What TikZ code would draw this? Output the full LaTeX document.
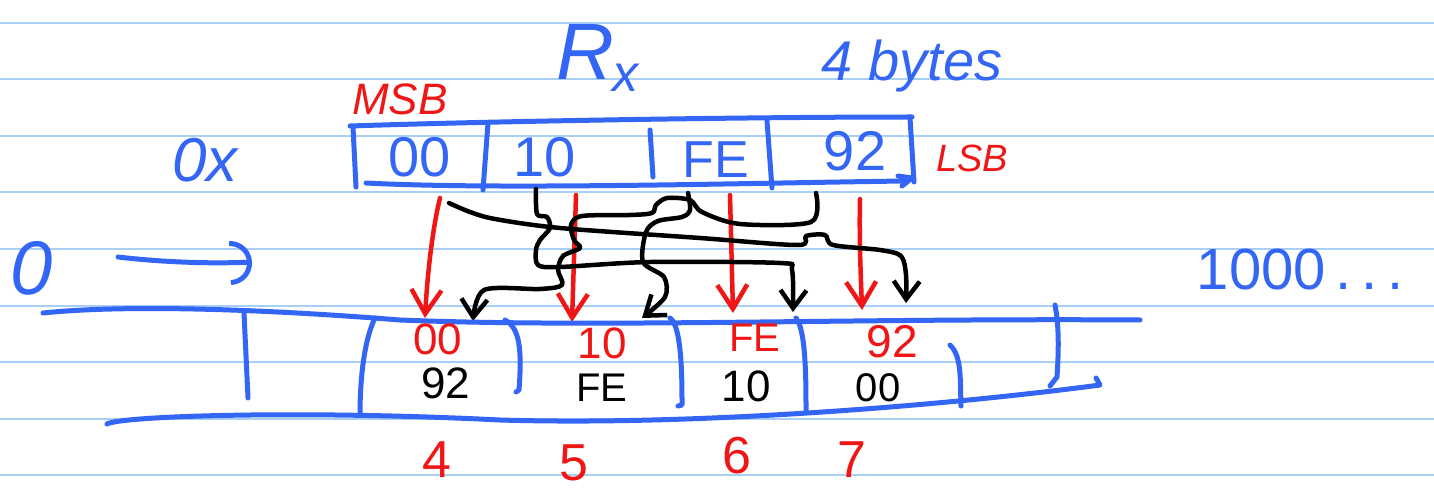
\documentclass[tikz,border=0pt]{standalone}
\usepackage{fontspec}
\setmainfont{Liberation Sans}
\usetikzlibrary{arrows.meta}
\definecolor{pen}{RGB}{52,102,246}
\definecolor{ruleblue}{RGB}{168,208,245}
\definecolor{redpen}{RGB}{240,22,22}
\newcommand{\fs}[1]{\fontsize{#1}{#1}\selectfont}
\tikzset{
  ruling/.style={draw=ruleblue,line width=2pt},
  bl/.style={draw=pen,line width=5pt,line cap=round,line join=round},
  rd/.style={draw=redpen,line width=4.5pt,line cap=round,line join=round,-{Straight Barb[length=24pt,width=30pt,line width=4.5pt]}},
  bk/.style={draw=black,line width=4.5pt,line cap=round,line join=round,-{Straight Barb[length=18pt,width=26pt,line width=4.5pt]}},
  btxt/.style={text=pen,inner sep=0pt},
  rtxt/.style={text=redpen,inner sep=0pt},
  ktxt/.style={text=black,inner sep=0pt},
}
\begin{document}
\begin{tikzpicture}[x=1pt,y=-1pt]
\useasboundingbox (0,0) rectangle (1434,489);
\fill[white] (0,0) rectangle (1434,489);
% ruled paper
\foreach \yy in {23,79.5,136,192.5,249,305.5,362,418.5,475}
  \draw[ruling] (0,\yy) -- (1434,\yy);

% labels above
\node[btxt,font=\itshape\fs{62}] (ox) at (205,160) {0x};
\node[btxt,font=\itshape\fs{80}] (R) at (585,52) {R};
\node[btxt,font=\itshape\fs{52}] (Rsub) at (625,78) {x};
\node[btxt,font=\itshape\fs{56}] (bytes) at (912,66) {4 bytes};
\node[rtxt,font=\itshape\fs{44}] (msb) at (400,99) {MSB};
\node[rtxt,font=\itshape\fs{38}] (lsb) at (972,158) {LSB};

% register box
\draw[bl] (350,126) .. controls (500,121) and (750,117) .. (912,117);
\draw[bl] (353,127) -- (356,187);
\draw[bl] (366,183) .. controls (500,190) and (750,183) .. (905,181) -- (912,178);
\draw[bl] (898,176) -- (912,178) -- (902,186);
\draw[bl] (488,123) -- (483,190);
\draw[bl] (650,130) -- (653,177);
\draw[bl] (767,121) -- (772,188);
\draw[bl] (910,118) -- (914,182);
\node[btxt,font=\fs{56}] (t00) at (420,157) {00};
\node[btxt,font=\fs{56}] (t10) at (545,157) {10};
\node[btxt,font=\fs{52}] (tFE) at (716,160) {FE};
\node[btxt,font=\fs{56}] (t92) at (855,151) {92};

% start / end coordinates
\coordinate (r1s) at (440,198); \coordinate (r1e) at (425,318);
\coordinate (r2s) at (576,195); \coordinate (r2e) at (572,322);
\coordinate (r3s) at (730,195); \coordinate (r3e) at (733,313);
\coordinate (r4s) at (860,199); \coordinate (r4e) at (862,310);

% red straight copies
\draw[rd] (r1s) .. controls (432,230) and (427,280) .. (r1e);
\draw[rd] (r2s) -- (r2e);
\draw[rd] (r3s) -- (r3e);
\draw[rd] (r4s) .. controls (859,240) and (861,280) .. (r4e);

% black swapped copies
\coordinate (k1s) at (449,203); \coordinate (k1e) at (906,303);
\coordinate (k2s) at (536,189); \coordinate (k2e) at (793,312);
\coordinate (k3s) at (688,193); \coordinate (k3e) at (642,318);
\coordinate (k4s) at (816,193); \coordinate (k4e) at (473,321);
\draw[bk] plot[smooth,tension=0.5] coordinates {(k1s) (470,212) (495,219) (560,228) (700,238) (798,245) (806,236) (825,235) (833,245) (880,250) (901,256) (906,275) (k1e)};
\draw[bk] plot[smooth,tension=0.5] coordinates {(k2s) (537,214) (547,217) (550,228) (540,240) (536,250) (538,265) (560,267) (650,262) (780,263) (792,270) (k2e)};
\draw[bk] plot[smooth,tension=0.5] coordinates {(k3s) (690,210) (682,217) (658,221) (646,232) (643,262) (664,277) (665,297) (k3e)};
\draw[bk] plot[smooth,tension=0.5] coordinates {(k4s) (811,222) (740,224) (702,212) (690,200) (667,198) (656,205) (652,213) (630,215) (582,216) (571,225) (574,240) (580,248) (563,256) (558,270) (562,285) (540,289) (484,290) (k4e)};

% left marker and arrow
\node[btxt,font=\itshape\fs{76}] (zero) at (32,268) {0};
\coordinate (as) at (118,257); \coordinate (ae) at (252,262);
\draw[bl,-{Arc Barb[length=22pt,width=44pt,line width=5pt]}] (as) .. controls (160,262) and (210,264) .. (ae);
\node[btxt,font=\fs{58}] (thou) at (1300,270) {1000\,.\,.\,.};

% memory strip
\draw[bl] (43,313) .. controls (120,305) and (250,308) .. (400,320) .. controls (600,328) and (850,318) .. (1140,320);
\draw[bl] (107,424) .. controls (120,416) and (300,410) .. (500,420) .. controls (700,426) and (950,405) .. (1100,385) -- (1096,378);
\draw[bl] (244,313) -- (248,398);
\draw[bl] (375,318) .. controls (364,340) and (360,380) .. (360,414);
\draw[bl] (505,320) .. controls (520,328) and (522,350) .. (519,390) -- (516,392);
\draw[bl] (670,318) .. controls (682,326) and (682,380) .. (682,405) -- (678,406);
\draw[bl] (796,318) .. controls (806,330) and (806,380) .. (806,412);
\draw[bl] (950,345) .. controls (962,356) and (960,380) .. (961,406);
\draw[bl] (1055,305) .. controls (1060,330) and (1058,360) .. (1057,377) -- (1050,386);

\node[rtxt,font=\fs{44}] (m4a) at (438,339) {00};
\node[ktxt,font=\fs{44}] (m4b) at (446,383) {92};
\node[rtxt,font=\fs{44}] (m5a) at (602,343) {10};
\node[ktxt,font=\fs{40}] (m5b) at (602,388) {FE};
\node[rtxt,font=\fs{40}] (m6a) at (755,338) {FE};
\node[ktxt,font=\fs{44}] (m6b) at (746,386) {10};
\node[rtxt,font=\fs{46}] (m7a) at (892,342) {92};
\node[ktxt,font=\fs{40}] (m7b) at (878,388) {00};

\node[rtxt,font=\fs{52}] (n4) at (437,460) {4};
\node[rtxt,font=\fs{52}] (n5) at (574,463) {5};
\node[rtxt,font=\fs{52}] (n6) at (737,456) {6};
\node[rtxt,font=\fs{52}] (n7) at (852,460) {7};
\end{tikzpicture}
\end{document}
